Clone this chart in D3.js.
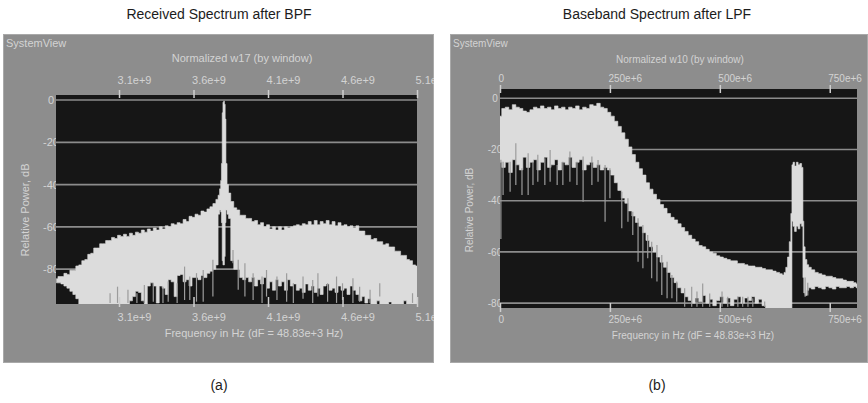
<!DOCTYPE html>
<html><head><meta charset="utf-8">
<script src="https://cdn.jsdelivr.net/npm/d3@7"></script>
<style>body{margin:0;background:#fff}svg{display:block}</style>
</head><body>
<svg id="c" width="868" height="403"></svg>
<script>
// ---------- DATA ----------
const titles = ["Received Spectrum after BPF", "Baseband Spectrum after LPF"];
const captions = ["(a)", "(b)"];
const headers = ["Normalized w17 (by window)", "Normalized w10 (by window)"];
const appName = "SystemView";
const yTitle = "Relative Power, dB";
const xTitle = "Frequency in Hz (dF = 48.83e+3 Hz)";
const yTicks = [0, -20, -40, -60, -80];
const yTickLabels = ["0", "-20", "-40", "-60", "-80"];

// Panel (a): frequency in GHz, power in dB (upper / lower envelope of the trace)
const xTicksA = [3.1, 3.6, 4.1, 4.6, 5.1];
const xTickLabelsA = ["3.1e+9", "3.6e+9", "4.1e+9", "4.6e+9", "5.1e+9"];
const freqA = [2.68,2.70,2.72,2.74,2.76,2.78,2.80,2.82,2.84,2.86,2.88,2.90,2.92,2.94,2.96,2.98,3.00,3.02,3.04,3.06,
  3.08,3.10,3.12,3.14,3.16,3.18,3.20,3.22,3.24,3.26,3.28,3.30,3.32,3.34,3.36,3.38,3.40,3.42,3.44,3.46,
  3.48,3.50,3.52,3.54,3.56,3.58,3.60,3.62,3.64,3.66,3.68,3.70,3.72,3.74,3.76,
  3.77,3.78,3.785,3.79,3.795,3.80,3.805,3.81,3.815,3.82,3.83,3.84,
  3.86,3.88,3.90,3.92,3.94,3.96,3.98,4.00,4.02,4.04,4.06,4.08,4.10,4.12,4.14,4.16,4.18,4.20,4.22,4.24,
  4.26,4.28,4.30,4.32,4.34,4.36,4.38,4.40,4.42,4.44,4.46,4.48,4.50,4.52,4.54,4.56,4.58,4.60,4.62,4.64,
  4.66,4.68,4.70,4.72,4.74,4.76,4.78,4.80,4.82,4.84,4.86,4.88,4.90,4.92,4.94,4.96,4.98,5.00,5.02,5.04,
  5.06,5.08,5.10];
const upperA = [-84.5,-83.5,-83.5,-82,-82.5,-80.5,-80.5,-78.5,-78,-76,-75.5,-73,-72.5,-70,-70,-68,-68,-66.5,-66.5,-65,
  -65.5,-64,-64.5,-63.5,-64.5,-63,-64,-62.5,-63,-61.5,-62.5,-61,-62,-60.5,-61.5,-60,-61,-59.5,-60,-58.5,
  -59,-58,-58.5,-56.5,-57.5,-55,-55.5,-54,-54.5,-52.5,-53,-51.5,-50.5,-49,-47,
  -45,-42,-38,-30,-6,-1,-0.5,-2,-9,-30,-40,-44,
  -48,-51,-52,-54.5,-54.5,-56,-56,-57.5,-57,-59,-58,-60,-59,-61,-60,-61.5,-60,-61.5,-60,-60.5,
  -60,-59.5,-59,-59.5,-58.5,-59,-57.5,-59,-57,-59,-57.5,-58.5,-57,-59,-57.5,-59.5,-58,-59.5,-59,-60,
  -59.5,-60.5,-59.5,-62,-62,-64,-64,-66,-65.5,-67,-67,-68.5,-68,-69.5,-69.5,-71.5,-71.5,-73.5,-73.5,-75.5,
  -76,-78,-78.5];
const lowerA = [-86.5,-86.5,-87,-88,-89,-90.5,-92,-94,-96.5,-96.5,-96.5,-96.5,-96.5,-96.5,-96.5,-96.5,-96.5,-96.5,-96.5,-96.5,
  -96.5,-96.5,-96.5,-96.5,-96.5,-95,-93,-90.5,-91,-95,-96.5,-88,-86.5,-88,-96,-88,-89,-92,-85,-86,
  -93,-83,-82.5,-86,-85,-88,-84,-84,-85,-83,-84,-82,-81,-80,-78,
  -54,-52,-53,-58,-76,-78,-78,-74,-58,-52,-54,-56,
  -76,-80,-80,-84,-85,-84,-86,-84,-88,-85,-87,-84,-89,-86,-90,-85,-88,-86,-90,-85,
  -88,-87,-90,-89,-91,-87,-90,-88,-91,-89,-92,-88,-87,-90,-89,-91,-88,-90,-89,-92,
  -88,-90,-92,-95,-93,-96,-94,-96.5,-96.5,-95,-96.5,-96.5,-96.5,-95.5,-96.5,-96.5,-96.5,-96.5,-95,-96.5,
  -96.5,-96.5,-96.5];
// thin spikes of the trace: [GHz, dB from, dB to]
const spikesA = [[3.04,-91.4,-96],[3.09,-88.3,-96],[3.16,-89.8,-96],[3.22,-91.4,-96],[3.27,-87.5,-96],[3.33,-86.7,-95.4],
  [3.395,-88.3,-96],[3.43,-85.9,-95.4],[3.49,-86.7,-96],[3.54,-78.8,-94.6],[3.575,-83.5,-94.6],[3.62,-81.9,-95.4],
  [3.665,-80.4,-95.4],[3.73,-75.6,-93],[3.865,-70.9,-77.2],[3.90,-75.6,-89.8],[3.945,-77.2,-93],[4.00,-81.9,-94.6],
  [4.06,-83.5,-96],[4.09,-80.4,-93],[4.16,-83.5,-94.6],[4.225,-81.9,-95.4],[4.27,-86.7,-96],[4.335,-83.5,-94],
  [4.40,-85.1,-96],[4.435,-81.9,-93],[4.50,-86.7,-95.4],[4.56,-83.5,-96],[4.60,-86.7,-94.6],[4.67,-84.3,-96],
  [4.715,-88.3,-95.4],[4.785,-89.8,-96],[4.85,-86.7,-93],[5.07,-91.4,-96]];

// Panel (b): frequency in MHz
const xTicksB = [0, 250, 500, 750];
const xTickLabelsB = ["0", "250e+6", "500e+6", "750e+6"];
const freqB = [0,8,16,24,32,40,48,56,64,72,80,88,96,104,112,120,128,136,144,152,
  160,168,176,184,192,200,208,216,224,232,240,248,256,264,272,280,288,296,304,312,
  320,328,336,344,352,360,368,376,384,392,400,408,416,424,432,440,448,456,464,472,
  480,488,496,504,512,520,528,536,544,552,560,568,576,584,592,600,608,616,624,632,640,
  644,648,652,656,660,663,665,668,672,676,680,684,688,690,692,696,700,704,
  712,720,728,736,744,752,760,768,776,784,792,800,808,812];
const upperB = [-7,-4,-3.5,-4.5,-2.5,-3.5,-4,-5,-5.5,-4.5,-3.5,-4,-3,-4,-3.5,-4.5,-3,-4,-3.5,-4.5,
  -3.5,-4,-3,-4.5,-3.5,-4,-2.5,-3,-2,-3.5,-4,-5.5,-7,-9,-11,-13.5,-16,-19,-22,-25,
  -27.5,-30,-33,-35.5,-37.5,-39.5,-41.5,-43,-45,-46.5,-47.5,-49,-50.5,-52,-53.5,-55,-56,-57.5,-58,-59,
  -60,-60.5,-61.5,-62,-62.5,-63,-63.5,-63.5,-64.5,-64.5,-65,-65.5,-65.5,-66,-66,-66.5,-67,-67,-67.5,-68,-68.5,
  -69,-68,-66,-62,-56,-45,-26,-25,-26.5,-25,-26,-25.5,-27,-48,-58,-63,-65,-66,
  -67,-68,-68.5,-69,-69.5,-69.5,-70,-70.5,-70.5,-71,-71.5,-71.5,-72,-72.5];
const lowerB = [-25,-27,-25,-29,-24,-26,-28,-23,-27,-25,-24,-28,-25,-23,-27,-26,-24,-28,-25,-26,
  -23,-27,-25,-24,-28,-26,-25,-27,-26,-28,-27,-28,-30,-33,-36,-39,-41,-44,-46,-48.5,
  -50,-52.5,-55.5,-58,-60,-62,-64,-66,-68,-70,-72,-74,-76,-77.5,-79,-80,-78,-79.5,-77,-80,
  -78.5,-81,-79,-77.5,-80,-78,-81,-78.5,-77.5,-80,-78,-79,-77.5,-80,-78.5,-81,-82,-82,-82,-82,-82,
  -82,-82,-82,-82,-82,-82,-48,-50,-52,-50,-51,-49,-50,-70,-76,-77,-75,-74,
  -74.5,-73.5,-74,-74.5,-73.5,-74,-74.5,-73.5,-74,-74,-73.5,-74,-73.5,-74];
// thin spikes: [MHz, dB from, dB to]
const spikesB = [[2,-24,-55],[7,-24.8,-37.8],[23,-24.8,-36.5],[36,-17.6,-33.9],[50,-27.3,-37.8],[64,-21.5,-37.8],[75,-24.8,-33.9],
  [86,-22.1,-32.6],[102,-23.4,-33.9],[114,-20.2,-32.6],[130,-26.1,-33.9],[143,-24.8,-33.9],[159,-20.8,-32.6],
  [175,-24.8,-33.9],[189,-22.8,-40.4],[209,-22.8,-33.9],[223,-24.1,-32.6],[239,-26.1,-48.2],[250,-27.3,-39.1],
  [277,-36.5,-50.8],[291,-39.1,-48.2],[302,-44.3,-53.4],[314,-46.9,-63.8],[325,-49.5,-66.4],[336,-53.4,-62.5],
  [345,-56,-70.3],[357,-57.3,-71.6],[368,-61.2,-76.8],[380,-63.8,-78.1],[391,-69,-78.1],[402,-71.6,-79.5],
  [420,-74.2,-81.4],[436,-73.6,-81.4],[448,-75.5,-81.4],[461,-72.3,-81.4],[477,-76.2,-81.4],[505,-75.5,-81.4],
  [518,-77.5,-81.4],[541,-77.5,-81.4],[552,-77.5,-81.4],[564,-77.5,-81.4],[575,-78.1,-81.4],[602,-79.4,-81.4],
  [694,-70,-77.5],[700,-72,-77]];

// ---------- LAYOUT / STYLE ----------
const FONT = "'Liberation Sans', Arial, sans-serif";
const C = {panel:"#8d8d8d", edge:"#a9a9a9", plot:"#161616", fill:"#dcdcdc", grid:"#8c8c8c",
           text:"#d3d3d3", tick:"#cfcfcf", spike:"#9c9c9c"};

const panels = [
  {box:[3,34,434,363], plot:[56,95,417,304], xDomain:[2.677,5.1], yDomain:[2.4,-96.5],
   freq:freqA, upper:upperA, lower:lowerA, spikes:spikesA, xTicks:xTicksA, xLabels:xTickLabelsA,
   header:headers[0], fs:11, topAxisY:98, topTick:8, topLabelY:80, botAxisY:297, botTick:10, botLabelY:317,
   headerX:242, headerY:58, xTitleX:254, xTitleY:333, yTitleX:25, yLabX:51, title:titles[0], caption:captions[0], cx:219},
  {box:[450,34,868,363], plot:[500,89,857,308], xDomain:[0,812], yDomain:[3.6,-81.9],
   freq:freqB, upper:upperB, lower:lowerB, spikes:spikesB, xTicks:xTicksB, xLabels:xTickLabelsB,
   header:headers[1], fs:10, topAxisY:93, topTick:8, topLabelY:78, botAxisY:303, botTick:9, botLabelY:319,
   headerX:680, headerY:59, xTitleX:693, xTitleY:335, yTitleX:469, yLabX:495, title:titles[1], caption:captions[1], cx:657}
];

const svg = d3.select("#c");
const defs = svg.append("defs");

panels.forEach((p, i) => {
  const [bx0, by0, bx1, by1] = p.box;
  const [px0, py0, px1, py1] = p.plot;

  // outer title + caption
  svg.append("text").attr("x", p.cx).attr("y", 19).attr("text-anchor", "middle")
    .attr("font-family", FONT).attr("font-size", 14).attr("fill", "#1c1c1c").text(p.title);
  svg.append("text").attr("x", p.cx).attr("y", 390).attr("text-anchor", "middle")
    .attr("font-family", FONT).attr("font-size", 14).attr("fill", "#1c1c1c").text(p.caption);

  defs.append("clipPath").attr("id", "box" + i).append("rect")
    .attr("x", bx0).attr("y", by0).attr("width", bx1 - bx0).attr("height", by1 - by0);
  defs.append("clipPath").attr("id", "plot" + i).append("rect")
    .attr("x", px0).attr("y", py0).attr("width", px1 - px0).attr("height", py1 - py0);

  const g = svg.append("g").attr("clip-path", `url(#box${i})`);
  g.append("rect").attr("x", bx0 + 0.5).attr("y", by0 + 0.5).attr("width", bx1 - bx0 - 1).attr("height", by1 - by0 - 1)
    .attr("fill", C.panel).attr("stroke", C.edge).attr("stroke-width", 1);

  const x = d3.scaleLinear().domain(p.xDomain).range([px0, px1]);
  const y = d3.scaleLinear().domain(p.yDomain).range([py0, py1]);

  const txt = (sel) => sel.attr("font-family", FONT).attr("fill", C.text);

  // texts in the gray frame
  txt(g.append("text")).attr("x", bx0 + 3).attr("y", 47).attr("font-size", p.fs).text(appName);
  txt(g.append("text")).attr("x", p.headerX).attr("y", p.headerY).attr("dy", "0.35em")
    .attr("text-anchor", "middle").attr("font-size", p.fs).text(p.header);
  txt(g.append("text")).attr("transform", `translate(${p.yTitleX},210) rotate(-90)`).attr("dy", "0.35em")
    .attr("text-anchor", "middle").attr("font-size", p.fs).text(yTitle);
  txt(g.append("text")).attr("x", p.xTitleX).attr("y", p.xTitleY).attr("dy", "0.35em")
    .attr("text-anchor", "middle").attr("font-size", p.fs).text(xTitle);

  // y tick labels (drawn before the plot so the plot covers their edge)
  const ya = g.append("g").attr("transform", `translate(${p.yLabX},0)`)
    .call(d3.axisLeft(y).tickValues(yTicks).tickFormat((d, k) => yTickLabels[k]).tickSize(0).tickPadding(0));
  ya.select(".domain").remove();
  ya.selectAll("text").attr("x", 0).attr("text-anchor", "middle").attr("fill", C.text)
    .attr("font-family", FONT).attr("font-size", p.fs);

  // plot background
  g.append("rect").attr("x", px0).attr("y", py0).attr("width", px1 - px0).attr("height", py1 - py0).attr("fill", C.plot);

  const pg = g.append("g").attr("clip-path", `url(#plot${i})`);
  // grid
  pg.selectAll("line.grid").data(yTicks).join("line").attr("class", "grid")
    .attr("x1", px0).attr("x2", px1).attr("y1", d => y(d)).attr("y2", d => y(d))
    .attr("stroke", C.grid).attr("stroke-width", 1.6);

  // spectrum (min/max envelope)
  const rows = p.freq.map((f, k) => ({f, hi: p.upper[k], lo: p.lower[k]}))
    .filter(d => d.hi !== undefined && d.lo !== undefined);
  const area = d3.area().x(d => x(d.f)).y0(d => y(d.lo)).y1(d => y(d.hi)).curve(d3.curveStep);
  pg.append("path").datum(rows).attr("d", area).attr("fill", C.fill)
    .attr("stroke", C.fill).attr("stroke-width", 0.6);

  // spikes
  pg.selectAll("line.spike").data(p.spikes).join("line").attr("class", "spike")
    .attr("x1", d => x(d[0])).attr("x2", d => x(d[0])).attr("y1", d => y(d[1])).attr("y2", d => y(d[2]))
    .attr("stroke", C.spike).attr("stroke-width", 1.2);

  // top & bottom axes (labels start at the tick, as in SystemView)
  const top = g.append("g").attr("transform", `translate(0,${p.topAxisY})`)
    .call(d3.axisTop(x).tickValues(p.xTicks).tickFormat((d, k) => p.xLabels[k]).tickSize(p.topTick));
  const bot = g.append("g").attr("transform", `translate(0,${p.botAxisY})`)
    .call(d3.axisBottom(x).tickValues(p.xTicks).tickFormat((d, k) => p.xLabels[k]).tickSize(p.botTick));
  [[top, p.topLabelY - p.topAxisY], [bot, p.botLabelY - p.botAxisY]].forEach(([a, dy]) => {
    a.select(".domain").remove();
    a.selectAll("line").attr("stroke", C.tick).attr("stroke-width", 1.5);
    a.selectAll("text").attr("y", dy).attr("dy", "0.35em").attr("x", -2).attr("text-anchor", "start")
      .attr("fill", C.text).attr("font-family", FONT).attr("font-size", p.fs);
  });
});
</script>
</body></html>
